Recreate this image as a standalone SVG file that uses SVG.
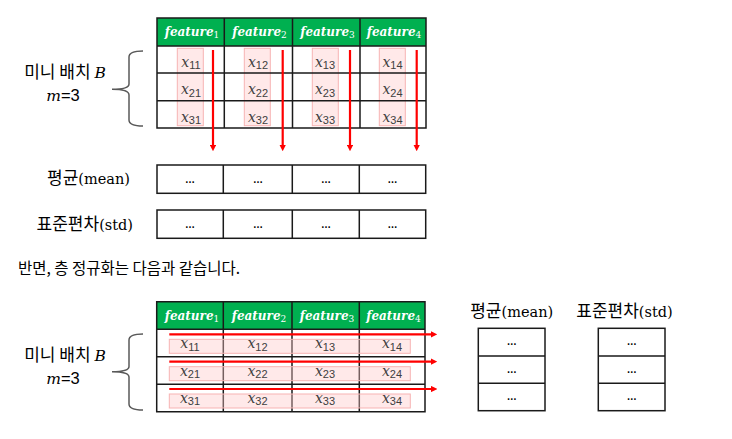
<svg xmlns="http://www.w3.org/2000/svg" width="732" height="439" viewBox="0 0 732 439">
<defs>
<marker id="ah" viewBox="0 0 10 10" refX="2" refY="5" markerWidth="3" markerHeight="3" orient="auto" markerUnits="strokeWidth">
<path d="M0,0 L10,5 L0,10 z" fill="#ff0000"/>
</marker>
<style>
.hdr{fill:#00b050}
.grid{stroke:#1a1a1a;stroke-width:1.5;fill:none}
.box{fill:#fff;stroke:#1a1a1a;stroke-width:1.5}
.pink{fill:#ffc9c9;fill-opacity:0.4;stroke:#f7b3b3;stroke-width:1}
.ft{font-family:"DejaVu Serif",serif;font-weight:bold;font-style:italic;font-size:12px;fill:#fff;text-anchor:middle}
.ft tspan{font-size:9px;font-style:normal;font-weight:normal}
.xv{font-family:"DejaVu Serif",serif;font-style:italic;font-size:14px;fill:#404040;text-anchor:middle}
.xv tspan{font-family:"Liberation Sans",sans-serif;font-style:normal;font-size:11px}
.dots{font-family:"Liberation Sans",sans-serif;font-size:10px;font-weight:bold;fill:#000;text-anchor:middle}
.lbl{font-family:"Noto Sans CJK KR",sans-serif;font-size:17px;fill:#000}
.lbl tspan.s{font-family:"DejaVu Serif",serif;font-size:14.5px}
.math{font-family:"DejaVu Serif",serif;font-style:italic;font-size:15.5px}
.num{font-family:"Liberation Sans",sans-serif;font-size:16.5px}
.brace{fill:none;stroke:#595959;stroke-width:1.5}
.red{stroke:#ff0000;stroke-width:2.2;fill:none;marker-end:url(#ah)}
.body{font-family:"Noto Sans CJK KR",sans-serif;font-size:15.5px;fill:#000}
</style>
</defs>

<!-- ===== Top: batch normalization ===== -->
<g id="label-top">
<text class="lbl" x="65" y="78" text-anchor="middle">미니 배치 <tspan class="math">B</tspan></text>
<text x="63" y="101" text-anchor="middle"><tspan class="math">m</tspan><tspan class="num">=3</tspan></text>
<path class="brace" d="M143,51 Q129,51 129,57 L129,84 Q129,89.3 112,89.3 Q129,89.3 129,95 L129,120 Q129,126 143,126"/>
</g>

<g id="table-top">
<rect x="157" y="18" width="269" height="28" class="hdr"/>
<rect x="157" y="46" width="269" height="82" fill="#fff"/>
<rect x="177.3" y="48.3" width="26" height="77.4" class="pink"/>
<rect x="244.3" y="48.3" width="26" height="77.4" class="pink"/>
<rect x="312.3" y="48.3" width="26" height="77.4" class="pink"/>
<rect x="379.3" y="48.3" width="26" height="77.4" class="pink"/>
<path class="grid" d="M157,18 H426 V128 H157 Z M157,46 H426 M157,73 H426 M157,100.7 H426 M224.3,18 V128 M292.5,18 V128 M360,18 V128"/>
<text class="ft" x="192" y="36">feature<tspan dy="2">1</tspan></text>
<text class="ft" x="259.5" y="36">feature<tspan dy="2">2</tspan></text>
<text class="ft" x="327.5" y="36">feature<tspan dy="2">3</tspan></text>
<text class="ft" x="394" y="36">feature<tspan dy="2">4</tspan></text>
<text class="xv" x="191" y="66.5">x<tspan dy="2.5">11</tspan></text>
<text class="xv" x="258" y="66.5">x<tspan dy="2.5">12</tspan></text>
<text class="xv" x="325" y="66.5">x<tspan dy="2.5">13</tspan></text>
<text class="xv" x="392.5" y="66.5">x<tspan dy="2.5">14</tspan></text>
<text class="xv" x="191" y="94">x<tspan dy="2.5">21</tspan></text>
<text class="xv" x="258" y="94">x<tspan dy="2.5">22</tspan></text>
<text class="xv" x="325" y="94">x<tspan dy="2.5">23</tspan></text>
<text class="xv" x="392.5" y="94">x<tspan dy="2.5">24</tspan></text>
<text class="xv" x="191" y="121.5">x<tspan dy="2.5">31</tspan></text>
<text class="xv" x="258" y="121.5">x<tspan dy="2.5">32</tspan></text>
<text class="xv" x="325" y="121.5">x<tspan dy="2.5">33</tspan></text>
<text class="xv" x="392.5" y="121.5">x<tspan dy="2.5">34</tspan></text>
</g>

<g id="mean-top">
<text class="lbl" x="130" y="184" text-anchor="end">평균<tspan class="s">(mean)</tspan></text>
<rect x="157" y="165" width="268.7" height="28.3" class="box"/>
<path class="grid" d="M223.3,165 V193.3 M292.3,165 V193.3 M359.3,165 V193.3"/>
<text class="dots" x="190" y="182.5">…</text>
<text class="dots" x="258" y="182.5">…</text>
<text class="dots" x="326" y="182.5">…</text>
<text class="dots" x="392.5" y="182.5">…</text>
</g>

<g id="std-top">
<text class="lbl" x="133" y="230" text-anchor="end">표준편차<tspan class="s">(std)</tspan></text>
<rect x="157" y="210" width="268.7" height="28.3" class="box"/>
<path class="grid" d="M223.3,210 V238.3 M292.3,210 V238.3 M359.3,210 V238.3"/>
<text class="dots" x="190" y="227.5">…</text>
<text class="dots" x="258" y="227.5">…</text>
<text class="dots" x="326" y="227.5">…</text>
<text class="dots" x="392.5" y="227.5">…</text>
</g>

<text class="body" x="18" y="274">반면, 층 정규화는 다음과 같습니다.</text>

<!-- ===== Bottom: layer normalization ===== -->
<g id="label-bottom">
<text class="lbl" x="65" y="361" text-anchor="middle">미니 배치 <tspan class="math">B</tspan></text>
<text x="63" y="384" text-anchor="middle"><tspan class="math">m</tspan><tspan class="num">=3</tspan></text>
<path class="brace" d="M143,334 Q129,334 129,340 L129,366.5 Q129,371.7 112,371.7 Q129,371.7 129,377 L129,404 Q129,410 143,410"/>
</g>

<g id="table-bottom">
<rect x="156.7" y="301.7" width="268.3" height="27.6" class="hdr"/>
<rect x="156.7" y="329.3" width="268.3" height="82.4" fill="#fff"/>
<path class="grid" d="M156.7,301.7 H425 V411.7 H156.7 Z M156.7,329.3 H425 M156.7,356.7 H425 M156.7,384.3 H425 M223.3,301.7 V411.7 M292,301.7 V411.7 M359.3,301.7 V411.7"/>
<rect x="169.3" y="339.3" width="241" height="14" class="pink"/>
<rect x="169.3" y="366.7" width="241" height="14" class="pink"/>
<rect x="169.3" y="394" width="241" height="14" class="pink"/>
<text class="ft" x="192" y="319.5">feature<tspan dy="2">1</tspan></text>
<text class="ft" x="259" y="319.5">feature<tspan dy="2">2</tspan></text>
<text class="ft" x="327" y="319.5">feature<tspan dy="2">3</tspan></text>
<text class="ft" x="393.5" y="319.5">feature<tspan dy="2">4</tspan></text>
<text class="xv" x="190" y="348">x<tspan dy="2.5">11</tspan></text>
<text class="xv" x="257.5" y="348">x<tspan dy="2.5">12</tspan></text>
<text class="xv" x="325" y="348">x<tspan dy="2.5">13</tspan></text>
<text class="xv" x="392" y="348">x<tspan dy="2.5">14</tspan></text>
<text class="xv" x="190" y="375.5">x<tspan dy="2.5">21</tspan></text>
<text class="xv" x="257.5" y="375.5">x<tspan dy="2.5">22</tspan></text>
<text class="xv" x="325" y="375.5">x<tspan dy="2.5">23</tspan></text>
<text class="xv" x="392" y="375.5">x<tspan dy="2.5">24</tspan></text>
<text class="xv" x="190" y="402.5">x<tspan dy="2.5">31</tspan></text>
<text class="xv" x="257.5" y="402.5">x<tspan dy="2.5">32</tspan></text>
<text class="xv" x="325" y="402.5">x<tspan dy="2.5">33</tspan></text>
<text class="xv" x="392" y="402.5">x<tspan dy="2.5">34</tspan></text>
</g>

<g id="mean-bottom">
<text class="lbl" x="511.7" y="317" text-anchor="middle">평균<tspan class="s">(mean)</tspan></text>
<rect x="478.3" y="328.3" width="66.7" height="82.4" class="box"/>
<path class="grid" d="M478.3,356 H545 M478.3,383.3 H545"/>
<text class="dots" x="511.7" y="345">…</text>
<text class="dots" x="511.7" y="372.5">…</text>
<text class="dots" x="511.7" y="400">…</text>
</g>

<g id="std-bottom">
<text class="lbl" x="624.5" y="317" text-anchor="middle">표준편차<tspan class="s">(std)</tspan></text>
<rect x="598.3" y="328.3" width="66.7" height="82.4" class="box"/>
<path class="grid" d="M598.3,356 H665 M598.3,383.3 H665"/>
<text class="dots" x="631.7" y="345">…</text>
<text class="dots" x="631.7" y="372.5">…</text>
<text class="dots" x="631.7" y="400">…</text>
</g>

<g id="connectors">
<line class="red" x1="213" y1="50" x2="213" y2="146"/>
<line class="red" x1="282.7" y1="50" x2="282.7" y2="146"/>
<line class="red" x1="350" y1="50" x2="350" y2="146"/>
<line class="red" x1="416.7" y1="50" x2="416.7" y2="146"/>
<line class="red" x1="169.3" y1="334.3" x2="432" y2="334.3"/>
<line class="red" x1="169.3" y1="361.7" x2="432" y2="361.7"/>
<line class="red" x1="169.3" y1="389" x2="432" y2="389"/>
</g>
</svg>
